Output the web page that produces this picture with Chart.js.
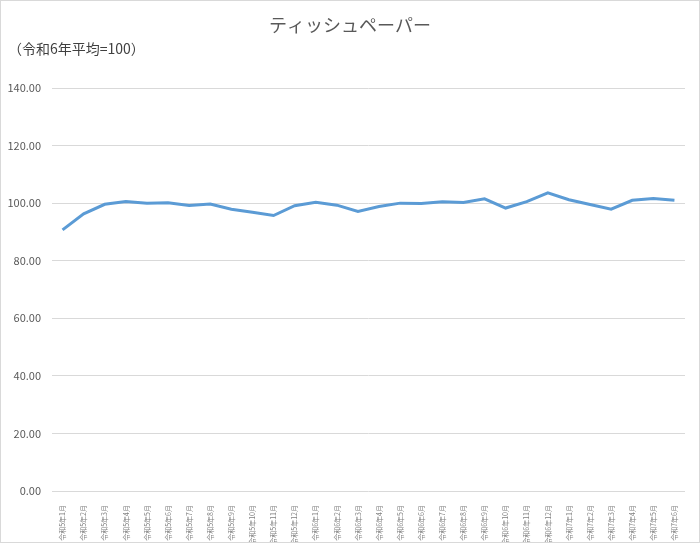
<!DOCTYPE html>
<html>
<head>
<meta charset="utf-8">
<script src="https://cdn.jsdelivr.net/npm/chart.js@4/dist/chart.umd.min.js"></script>
<style>
  html, body { margin: 0; padding: 0; background: #fff; }
  #wrap { width: 700px; height: 543px; }
</style>
</head>
<body>
<div id="wrap"><canvas id="chart" width="700" height="543"></canvas></div>
<script>
/*********************************
 DATA
*********************************/
const TITLE = "ティッシュペーパー";
const SUBTITLE = "（令和6年平均=100）";

const months = [
  "令和5年1月","令和5年2月","令和5年3月","令和5年4月","令和5年5月","令和5年6月",
  "令和5年7月","令和5年8月","令和5年9月","令和5年10月","令和5年11月","令和5年12月",
  "令和6年1月","令和6年2月","令和6年3月","令和6年4月","令和6年5月","令和6年6月",
  "令和6年7月","令和6年8月","令和6年9月","令和6年10月","令和6年11月","令和6年12月",
  "令和7年1月","令和7年2月","令和7年3月","令和7年4月","令和7年5月","令和7年6月"
];

const indexValues = [
  90.7, 96.3, 99.6, 100.6, 100.0, 100.1,
  99.2, 99.7, 97.9, 96.8, 95.7, 99.1,
  100.3, 99.3, 97.1, 98.8, 100.0, 99.9,
  100.5, 100.2, 101.5, 98.3, 100.5, 103.6,
  101.2, 99.5, 97.9, 101.0, 101.6, 101.0
];

const yTicks = [0, 20, 40, 60, 80, 100, 120, 140];

/*********************************
 STYLE
*********************************/
const JP_FONT = "'Noto Sans CJK JP', 'Noto Sans', sans-serif";
const GRID = "#d9d9d9";
const TEXT = "#595959";
const LINE = "#5b9bd5";

/*********************************
 PLUGINS
*********************************/
const frame = {
  id: "frame",
  afterDraw(chart) {
    const { ctx, width, height } = chart;
    ctx.save();
    ctx.strokeStyle = GRID;
    ctx.lineWidth = 1;
    ctx.strokeRect(0.5, 0.5, width - 1, height - 1);

    ctx.fillStyle = TEXT;
    ctx.textBaseline = "middle";
    ctx.font = "18px " + JP_FONT;
    ctx.textAlign = "center";
    ctx.fillText(TITLE, width / 2, 25);

    ctx.fillStyle = "#404040";
    ctx.font = "14px " + JP_FONT;
    ctx.textAlign = "left";
    ctx.fillText(SUBTITLE, 8, 49);
    ctx.restore();
  }
};

/*********************************
 CHART
*********************************/
new Chart(document.getElementById("chart"), {
  type: "line",
  data: {
    labels: months,
    datasets: [{
      data: indexValues,
      borderColor: LINE,
      borderWidth: 3,
      pointRadius: 0,
      tension: 0,
      fill: false
    }]
  },
  options: {
    responsive: false,
    animation: false,
    layout: { padding: { top: 88, right: 15, left: 0, bottom: 0 } },
    plugins: {
      legend: { display: false },
      tooltip: { enabled: false }
    },
    scales: {
      x: {
        offset: true,
        grid: { display: false },
        border: { display: false },
        afterFit: s => { s.height = 52; },
        ticks: {
          autoSkip: false,
          minRotation: 90,
          maxRotation: 90,
          padding: 6,
          color: "#808080",
          font: { family: JP_FONT, size: 7 }
        }
      },
      y: {
        min: 0,
        max: 140,
        afterBuildTicks: s => { s.ticks = yTicks.map(v => ({ value: v })); },
        afterFit: s => { s.width = 52; },
        grid: { color: GRID, lineWidth: 1, drawTicks: false },
        border: { display: false },
        ticks: {
          padding: 11,
          color: TEXT,
          font: { family: JP_FONT, size: 11 },
          callback: v => Number(v).toFixed(2)
        }
      }
    }
  },
  plugins: [frame]
});
</script>
</body>
</html>
